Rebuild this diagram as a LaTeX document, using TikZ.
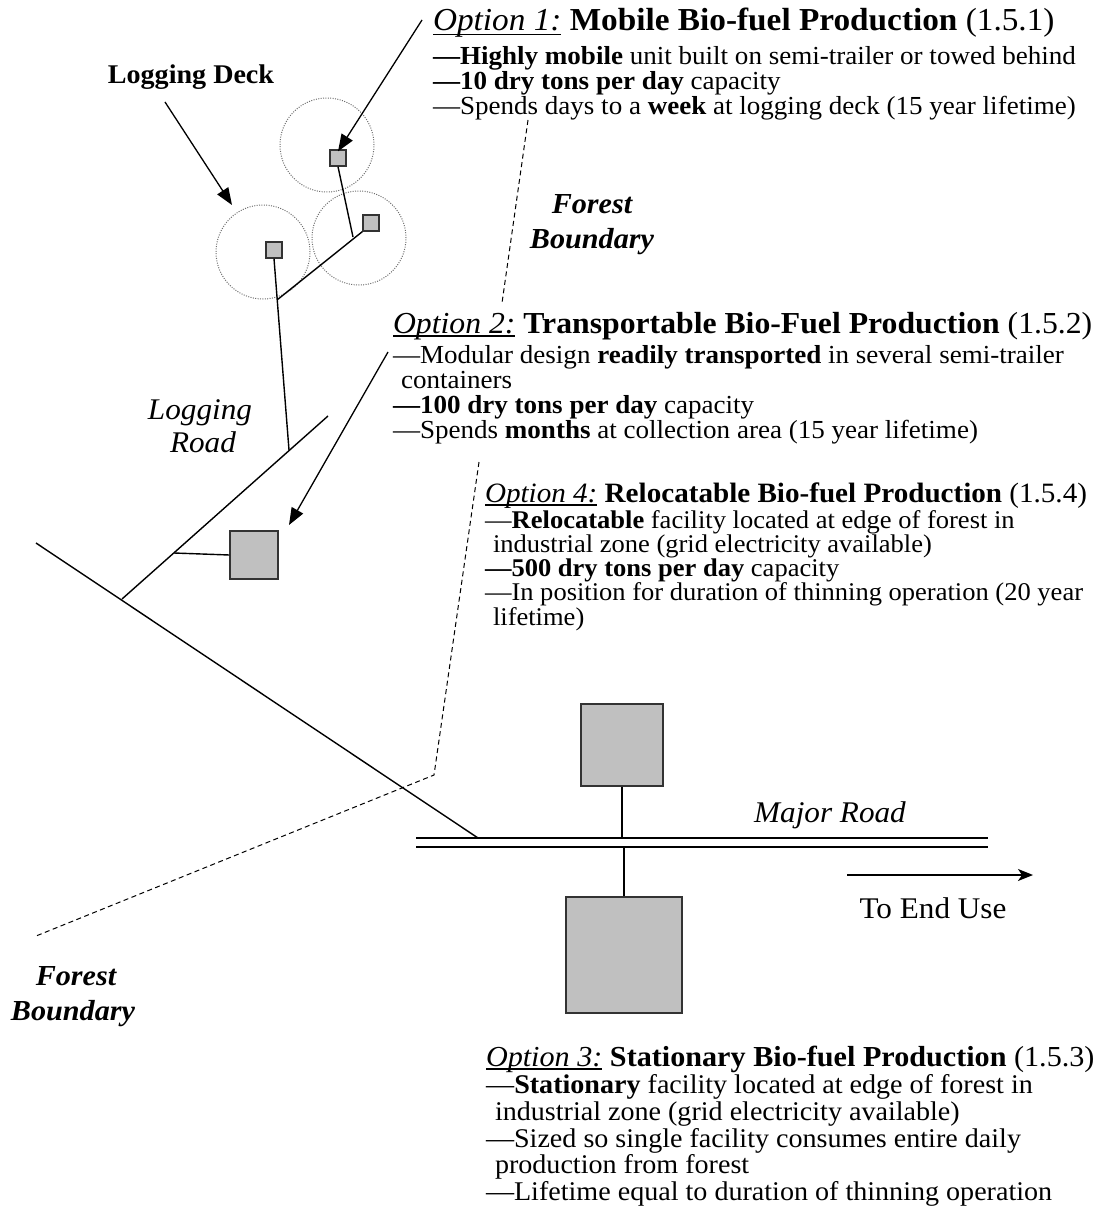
\documentclass[tikz,border=0pt]{standalone}
\usepackage{fontspec}
\setmainfont[FakeStretch=1.04]{Liberation Serif}
\usetikzlibrary{arrows.meta}
\definecolor{boxgray}{HTML}{C0C0C0}
\definecolor{edgegray}{HTML}{333333}
\definecolor{ringgray}{HTML}{6E6E6E}
% font size in px-like points
\newcommand\fsz[1]{\fontsize{#1}{#1}\selectfont}
% italic option label with a rule underneath
\newcommand\optul[1]{\setbox0=\hbox{\itshape #1}\leavevmode\rlap{\rule[-0.13em]{\wd0}{0.05em}}\box0\relax}
\tikzset{
  ln/.style={anchor=base west, inner sep=0pt, outer sep=0pt},
  lbl/.style={anchor=base, inner sep=0pt, outer sep=0pt},
  facility/.style={draw=edgegray, fill=boxgray, line width=1.3pt, inner sep=0pt, minimum width=#1, minimum height=#1},
  deck/.style={circle, draw=ringgray, line width=1pt, dash pattern=on 1pt off 1.4pt, minimum size=94pt, inner sep=0pt},
  road/.style={line width=1.4pt},
  arr/.style={line width=1.3pt, -{Triangle[length=17pt,width=13pt]}},
  boundary/.style={line width=1pt, dash pattern=on 5pt off 3.5pt},
}
\begin{document}
\begin{tikzpicture}[x=1pt,y=-1pt]
\useasboundingbox (0,0) rectangle (1104,1222);

% ---- logging decks ----
\node[deck] (ring1) at (327,145) {};
\node[deck] (ring2) at (359,238) {};
\node[deck] (ring3) at (263,252) {};
\node[facility=16pt] (sq1) at (338,158) {};
\node[facility=16pt] (sq2) at (371,223) {};
\node[facility=16pt] (sq3) at (274,250) {};

% ---- roads ----
\coordinate (mainA) at (36,543);
\coordinate (mainB) at (478,838);
\coordinate (logA) at (122,599);
\coordinate (logB) at (328,416);
\coordinate (spur1) at (353,237);
\coordinate (spur2) at (277,300);
\coordinate (spur3) at (289,450);
\coordinate (spurT) at (174,553);
\draw[road] (mainA) -- (mainB);
\draw[road] (logA) -- (logB);
\draw[road] (sq3.south) -- (spur3);
\draw[road] (sq2.south west) -- (spur2);
\draw[road] (sq1.south) -- (spur1);

\node[facility=48pt] (sqT) at (254,555) {};
\draw[road] (spurT) -- (sqT.west);

% major road
\coordinate (majA) at (416,838);
\coordinate (majB) at (988,838);
\coordinate (majC) at (416,847);
\coordinate (majD) at (988,847);
\draw[line width=2.4pt] (majA) -- (majB);
\draw[line width=2.4pt] (majC) -- (majD);

\node[facility=82pt] (sqR) at (622,745) {};
\node[facility=116pt] (sqS) at (624,955) {};
\draw[road] (sqR.south) -- (sqR.south |- majA);
\draw[road] (sqS.north) -- (sqS.north |- majC);

% ---- forest boundary ----
\coordinate (fb1) at (528,120);
\coordinate (fb2) at (502,303);
\coordinate (fb3) at (479,462);
\coordinate (fb4) at (434,775);
\coordinate (fb5) at (36,936);
\draw[boundary] (fb1) -- (fb2);
\draw[boundary] (fb3) -- (fb4) -- (fb5);

% ---- labels ----
\node[lbl, font=\fsz{27}\bfseries] (deckLbl) at (191,84) {Logging Deck};
\node[lbl, font=\fsz{29}\bfseries\itshape] (fbUp1) at (592,214) {Forest};
\node[lbl, font=\fsz{29}\bfseries\itshape] (fbUp2) at (592,249) {Boundary};
\node[lbl, font=\fsz{29}\bfseries\itshape] (fbLo1) at (76,985) {Forest};
\node[lbl, font=\fsz{29}\bfseries\itshape] (fbLo2) at (73,1020) {Boundary};
\node[lbl, font=\fsz{30}\itshape] (lrd1) at (200,419) {Logging};
\node[lbl, font=\fsz{30}\itshape] (lrd2) at (203,452) {Road};
\node[lbl, font=\fsz{30}\itshape] (major) at (830,822) {Major Road};
\node[lbl, font=\fsz{30}] (endUse) at (933,918) {To End Use};

% ---- option 1 ----
\node[ln, font=\fsz{32}] (o1t) at (433,31) {\optul{Option 1:} \textbf{Mobile Bio-fuel Production} (1.5.1)};
\node[ln, font=\fsz{26}] (o1a) at (433,65) {\textbf{—Highly mobile} unit built on semi-trailer or towed behind};
\node[ln, font=\fsz{26}] (o1b) at (433,90) {\textbf{—10 dry tons per day} capacity};
\node[ln, font=\fsz{26}] (o1c) at (433,115) {—Spends days to a \textbf{week} at logging deck (15 year lifetime)};

% ---- option 2 ----
\node[ln, font=\fsz{30.5}] (o2t) at (393,333) {\optul{Option 2:} \textbf{Transportable Bio-Fuel Production} (1.5.2)};
\node[ln, font=\fsz{26}] (o2a) at (393,363) {—Modular design \textbf{readily transported} in several semi-trailer};
\node[ln, font=\fsz{26}] (o2b) at (401,388) {containers};
\node[ln, font=\fsz{26}] (o2c) at (393,413) {\textbf{—100 dry tons per day} capacity};
\node[ln, font=\fsz{26}] (o2d) at (393,438) {—Spends \textbf{months} at collection area (15 year lifetime)};

% ---- option 4 ----
\node[ln, font=\fsz{28}] (o4t) at (485,502) {\optul{Option 4:} \textbf{Relocatable Bio-fuel Production} (1.5.4)};
\node[ln, font=\fsz{25.5}] (o4a) at (485,528) {—\textbf{Relocatable} facility located at edge of forest in};
\node[ln, font=\fsz{25.5}] (o4b) at (493,552) {industrial zone (grid electricity available)};
\node[ln, font=\fsz{25.5}] (o4c) at (485,576) {\textbf{—500 dry tons per day} capacity};
\node[ln, font=\fsz{25.5}] (o4d) at (485,600) {—In position for duration of thinning operation (20 year};
\node[ln, font=\fsz{25.5}] (o4e) at (493,625) {lifetime)};

% ---- option 3 ----
\node[ln, font=\fsz{29}] (o3t) at (486,1066) {\optul{Option 3:} \textbf{Stationary Bio-fuel Production} (1.5.3)};
\node[ln, font=\fsz{27}] (o3a) at (486,1093) {—\textbf{Stationary} facility located at edge of forest in};
\node[ln, font=\fsz{27}] (o3b) at (495,1120) {industrial zone (grid electricity available)};
\node[ln, font=\fsz{27}] (o3c) at (486,1147) {—Sized so single facility consumes entire daily};
\node[ln, font=\fsz{27}] (o3d) at (495,1173) {production from forest};
\node[ln, font=\fsz{27}] (o3e) at (486,1200) {—Lifetime equal to duration of thinning operation};

% ---- pointer arrows ----
\coordinate (o1tail) at (422,20);
\coordinate (o2tail) at (388,352);
\coordinate (o2tip) at (289,525);
\coordinate (deckTail) at (165,102);
\coordinate (deckTip) at (232,205);
\draw[arr] (o1tail) -- ([yshift=-2pt]sq1.north);
\draw[arr] (o2tail) -- (o2tip);
\draw[arr] (deckTail) -- (deckTip);

% ---- end use ----
\coordinate (euA) at (847,875);
\coordinate (euB) at (1033,875);
\draw[line width=1.3pt, -{Stealth[length=15pt,width=12pt,inset=4pt]}] (euA) -- (euB);
\end{tikzpicture}
\end{document}
